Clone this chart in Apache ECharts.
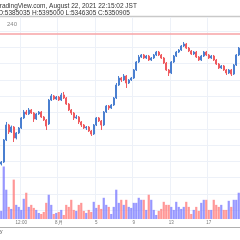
<!DOCTYPE html>
<html>
<head>
<meta charset="utf-8">
<script src="https://cdn.jsdelivr.net/npm/echarts@6/dist/echarts.min.js"></script>
<style>
  html, body { margin: 0; padding: 0; background: #fff; }
  #chart { width: 240px; height: 240px; }
</style>
</head>
<body>
<div id="chart"></div>
<script>
// 240-minute candles, prices in thousands of JPY
const open = [3968, 3992, 4263, 4447, 4361, 4422, 4287, 4349, 4410, 4533,
  4606, 4582, 4631, 4594, 4520, 4582, 4606, 4545, 4508, 4459,
  4753, 4803, 4766, 4790, 4753, 4815, 4778, 4704, 4631, 4594,
  4533, 4545, 4484, 4447, 4410, 4422, 4373, 4336, 4447, 4533,
  4496, 4447, 4606, 4680, 4655, 4692, 4778, 4937, 5023, 4999,
  5048, 4962, 4999, 5023, 5122, 5220, 5281, 5306, 5269, 5293,
  5244, 5269, 5306, 5342, 5306, 5269, 5207, 5122, 5085, 5220,
  5293, 5342, 5367, 5416, 5441, 5391, 5355, 5318, 5342, 5281,
  5244, 5293, 5342, 5306, 5269, 5293, 5244, 5195, 5146, 5171,
  5122, 5085, 5122, 5072, 5183, 5306];
const close = [3992, 4263, 4447, 4361, 4422, 4287, 4349, 4410, 4533, 4606,
  4582, 4631, 4594, 4520, 4582, 4606, 4545, 4508, 4434, 4753,
  4803, 4766, 4790, 4753, 4815, 4778, 4704, 4631, 4594, 4533,
  4545, 4484, 4447, 4410, 4422, 4373, 4336, 4447, 4533, 4496,
  4447, 4606, 4680, 4655, 4692, 4778, 4937, 5023, 4999, 5048,
  4962, 4999, 5023, 5122, 5220, 5281, 5306, 5269, 5293, 5244,
  5269, 5306, 5342, 5306, 5269, 5207, 5122, 5085, 5220, 5293,
  5342, 5367, 5416, 5441, 5391, 5355, 5318, 5342, 5281, 5244,
  5293, 5342, 5306, 5269, 5293, 5244, 5195, 5146, 5171, 5122,
  5085, 5122, 5072, 5183, 5306, 5391];
const low = [3950, 3980, 4250, 4336, 4349, 4238, 4270, 4336, 4398, 4520,
  4570, 4570, 4582, 4484, 4508, 4570, 4533, 4496, 4385, 4447,
  4741, 4753, 4753, 4741, 4741, 4766, 4692, 4618, 4570, 4508,
  4520, 4459, 4422, 4398, 4385, 4361, 4312, 4324, 4434, 4484,
  4385, 4434, 4594, 4631, 4643, 4680, 4766, 4925, 4975, 4987,
  4901, 4950, 4987, 5011, 5110, 5207, 5269, 5257, 5257, 5232,
  5232, 5257, 5293, 5293, 5257, 5195, 5110, 5048, 5072, 5207,
  5281, 5330, 5355, 5404, 5379, 5342, 5306, 5306, 5269, 5232,
  5232, 5281, 5293, 5257, 5257, 5232, 5183, 5134, 5134, 5110,
  5060, 5072, 5048, 5060, 5171, 5293];
const high = [4005, 4275, 4484, 4460, 4440, 4434, 4361, 4422, 4545, 4631,
  4631, 4655, 4643, 4606, 4594, 4618, 4618, 4557, 4520, 4766,
  4827, 4815, 4803, 4803, 4840, 4852, 4790, 4716, 4643, 4606,
  4570, 4557, 4496, 4459, 4434, 4434, 4385, 4459, 4545, 4545,
  4508, 4618, 4692, 4692, 4704, 4790, 4962, 5048, 5036, 5072,
  5060, 5011, 5036, 5134, 5232, 5306, 5318, 5318, 5306, 5306,
  5281, 5318, 5355, 5355, 5318, 5281, 5220, 5134, 5232, 5306,
  5355, 5379, 5428, 5465, 5453, 5404, 5367, 5355, 5355, 5293,
  5306, 5355, 5355, 5318, 5306, 5306, 5257, 5207, 5183, 5183,
  5134, 5134, 5134, 5195, 5318, 5404];
const volume = [40, 260, 145, 60, 50, 195, 70, 60, 45, 100,
  130, 60, 70, 55, 45, 30, 25, 35, 80, 120,
  70, 25, 30, 35, 45, 20, 70, 60, 95, 45,
  40, 70, 80, 40, 30, 45, 35, 85, 55, 70,
  50, 105, 70, 60, 25, 60, 145, 80, 95, 70,
  95, 60, 55, 80, 80, 105, 95, 95, 45, 120,
  95, 45, 20, 40, 50, 85, 70, 70, 60, 45,
  85, 60, 50, 60, 85, 60, 25, 45, 60, 40,
  80, 95, 95, 45, 45, 95, 70, 60, 70, 45,
  45, 90, 60, 95, 95, 130];

// time-axis ticks (candle index -> label)
const tickIndex = [8, 23, 38, 53, 68, 83];
const tickLabels = ['12:00', '8月', '5', '9', '13', '17'];

const lastPriceLine = 5563;

const upColor = '#4a7fd0';
const downColor = '#ef5a5f';
const upVol = 'rgba(125,125,255,0.8)';
const downVol = 'rgba(255,125,125,0.8)';
const gridColor = '#edf1f8';
const font = 'Liberation Sans, Arial, sans-serif';

const cats = close.map((_, i) => String(i));
const candles = close.map((c, i) => [open[i], c, low[i], high[i]]);
const volData = volume.map((v, i) => ({
  value: v,
  itemStyle: { color: close[i] >= open[i] ? upVol : downVol }
}));
const isTick = (i) => tickIndex.includes(i);

const chart = echarts.init(document.getElementById('chart'));
chart.setOption({
  animation: false,
  backgroundColor: '#fff',
  grid: [
    { left: 0, right: 0, top: 17, bottom: 13.4 },
    { left: 0, right: 0, top: 17, bottom: 21 }
  ],
  xAxis: [
    {
      type: 'category', gridIndex: 0, data: cats,
      axisLine: { show: false }, axisTick: { show: false },
      axisLabel: { show: false }, splitLine: { show: false }
    },
    {
      type: 'category', gridIndex: 1, data: cats,
      axisLine: { show: false }, axisTick: { show: false },
      axisLabel: {
        interval: (i) => isTick(i),
        formatter: (v, i) => tickLabels[tickIndex.indexOf(i)],
        fontSize: 4.5, color: '#777', margin: 1, fontFamily: font
      },
      splitLine: { show: true, interval: (i) => isTick(i), lineStyle: { color: gridColor, width: 1 } }
    }
  ],
  yAxis: [
    {
      type: 'value', gridIndex: 0, position: 'right',
      min: 3200, max: 5772, interval: 200,
      axisLine: { show: false }, axisTick: { show: false }, axisLabel: { show: false },
      splitLine: { show: true, showMinLine: false, showMaxLine: false, lineStyle: { color: gridColor, width: 1 } }
    },
    {
      type: 'value', gridIndex: 1, min: 0, max: 1000, show: false,
      splitLine: { show: false }
    }
  ],
  series: [
    {
      type: 'bar', xAxisIndex: 1, yAxisIndex: 1,
      data: volData, barCategoryGap: '12%', z: 1
    },
    {
      type: 'candlestick', xAxisIndex: 0, yAxisIndex: 0,
      data: candles, barWidth: '70%', z: 3,
      itemStyle: {
        color: upColor, color0: downColor,
        borderColor: upColor, borderColor0: downColor, borderWidth: 1
      },
      markLine: {
        silent: true, symbol: 'none',
        label: { show: false },
        lineStyle: { color: '#f7a3a6', width: 1.5, type: 'solid' },
        data: [{ yAxis: lastPriceLine }]
      }
    }
  ],
  graphic: [
    {
      type: 'text', x: -4, y: 2.5,
      style: { text: 'TradingView.com, August 22, 2021 22:15:02 JST', fill: '#333', fontSize: 6.5, fontFamily: font }
    },
    {
      type: 'text', x: -2, y: 9.5,
      style: { text: 'O:5385035 H:5395000 L:5346305 C:5350905', fill: '#333', fontSize: 6.5, fontFamily: font }
    },
    {
      type: 'line', shape: { x1: 0, y1: 16.5, x2: 240, y2: 16.5 },
      style: { stroke: '#c9c9c9', lineWidth: 1.5 }
    },
    {
      type: 'text', x: 7, y: 21,
      style: { text: '240', fill: '#888', fontSize: 6, fontFamily: font }
    },
    {
      type: 'line', shape: { x1: 0, y1: 227.5, x2: 240, y2: 227.5 },
      style: { stroke: '#b0b0b0', lineWidth: 1 }
    },
    {
      type: 'text', x: 0, y: 229,
      style: { text: 'y', fill: '#444', fontSize: 5, fontFamily: font }
    }
  ]
});
</script>
</body>
</html>
